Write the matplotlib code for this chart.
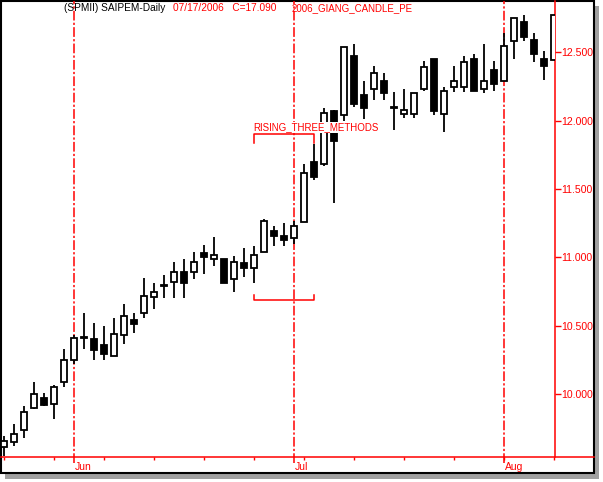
import numpy as np
import matplotlib
matplotlib.use("Agg")
from matplotlib import pyplot as plt
from matplotlib.patches import Rectangle
from matplotlib.lines import Line2D
import matplotlib.transforms as mtrans

# daily candles, SAIPEM, mid May -> mid Aug 2006
opens = [9.61, 9.65, 9.74, 9.90, 9.97, 9.93, 10.09, 10.25, 10.41, 10.40,
         10.36, 10.28, 10.43, 10.54, 10.59, 10.71, 10.79, 10.82, 10.89, 10.89,
         11.03, 10.99, 10.99, 10.84, 10.96, 10.92, 11.04, 11.19, 11.16, 11.14,
         11.26, 11.70, 11.68, 12.07, 12.04, 12.47, 12.19, 12.23, 12.29, 12.095,
         12.05, 12.05, 12.23, 12.45, 12.05, 12.25, 12.25, 12.45, 12.23, 12.37,
         12.29, 12.58, 12.72, 12.59, 12.45, 12.445]
highs = [9.69, 9.78, 9.91, 10.09, 10.01, 10.07, 10.33, 10.43, 10.59, 10.52,
         10.50, 10.56, 10.66, 10.59, 10.85, 10.81, 10.87, 10.97, 10.99, 11.04,
         11.09, 11.15, 10.99, 11.01, 11.07, 11.08, 11.28, 11.23, 11.25, 11.27,
         11.68, 11.83, 12.09, 12.08, 12.54, 12.56, 12.29, 12.40, 12.35, 12.21,
         12.23, 12.20, 12.44, 12.45, 12.25, 12.40, 12.47, 12.49, 12.56, 12.44,
         12.64, 12.75, 12.77, 12.64, 12.51, 12.775]
lows = [9.55, 9.62, 9.68, 9.89, 9.91, 9.82, 10.05, 10.22, 10.33, 10.25,
        10.25, 10.28, 10.37, 10.45, 10.56, 10.62, 10.70, 10.70, 10.70, 10.84,
        10.88, 10.94, 10.81, 10.75, 10.86, 10.81, 11.04, 11.08, 11.08, 11.10,
        11.26, 11.57, 11.67, 11.40, 12.00, 12.10, 12.01, 12.15, 12.15, 11.93,
        12.02, 12.02, 12.22, 12.04, 11.92, 12.21, 12.21, 12.22, 12.20, 12.22,
        12.29, 12.45, 12.58, 12.43, 12.30, 12.445]
closes = [9.66, 9.71, 9.87, 10.00, 9.92, 10.05, 10.25, 10.41, 10.415, 10.32,
          10.29, 10.44, 10.57, 10.51, 10.72, 10.75, 10.80, 10.89, 10.81, 10.97,
          11.00, 11.02, 10.81, 10.97, 10.92, 11.02, 11.27, 11.16, 11.13, 11.23,
          11.62, 11.59, 12.06, 11.85, 12.54, 12.12, 12.09, 12.35, 12.20, 12.10,
          12.08, 12.20, 12.39, 12.07, 12.22, 12.29, 12.43, 12.22, 12.29, 12.27,
          12.55, 12.75, 12.61, 12.49, 12.40, 12.775]

month_names = ["Jun", "Jul", "Aug"]
month_index = [7, 29, 50]          # first trading day of each month
pattern_start, pattern_end = 25, 31
ytick_vals = [10.0, 10.5, 11.0, 11.5, 12.0, 12.5]

W, H = 603, 482
RED = "#ff0000"
FONT = "Liberation Sans"
plt.rcParams["lines.scale_dashes"] = False

fig = plt.figure(figsize=(W / 100, H / 100), dpi=100)
fig.patch.set_facecolor("white")

def fx(px):
    return px / W

def fy(py):
    return 1 - py / H

# frame with drop shadow
fig.patches.append(Rectangle((fx(5), fy(479)), fx(594), 473 / H, transform=fig.transFigure,
                             facecolor="#a0a0a0", edgecolor="none", zorder=0))
fig.patches.append(Rectangle((fx(0.5), fy(473)), fx(593.5), 472.5 / H, transform=fig.transFigure,
                             facecolor="white", edgecolor="black", lw=1.5, zorder=1))

ax = fig.add_axes([fx(1), fy(457), fx(555) - fx(1), fy(1) - fy(457)])
ax.set_facecolor("none")
ax.set_zorder(2)

x = np.arange(len(opens))
o = np.array(opens)
c = np.array(closes)
up = c >= o

ax.vlines(x, lows, highs, color="black", lw=1.3, zorder=2)
ax.bar(x[up], (c - o)[up], bottom=o[up], width=0.6, color="white",
       edgecolor="black", lw=1.3, zorder=3)
ax.bar(x[~up], (c - o)[~up], bottom=o[~up], width=0.6, color="black",
       edgecolor="black", lw=1.3, zorder=3)

ax.set_xlim(-0.3, 55.1)
ax.set_ylim(9.54, 12.876)

# month separators
trans = mtrans.blended_transform_factory(ax.transData, ax.transAxes)
for name, mi in zip(month_names, month_index):
    ax.plot([mi, mi], [-0.014, 1], transform=trans, color=RED, lw=1.1,
            linestyle=(0, (7, 1.6, 1.6, 1.6)), clip_on=False, zorder=1)
    ax.text(mi + 0.1, -0.011, name, transform=trans, ha="left", va="top",
            color=RED, fontsize=7.5, family=FONT)

# rising three methods brackets
top_lvl = max(highs[pattern_start:pattern_end + 1]) + 0.07
bot_lvl = min(lows[pattern_start:pattern_end + 1]) - 0.12
ax.plot([pattern_start, pattern_start, pattern_end, pattern_end],
        [top_lvl - 0.065, top_lvl, top_lvl, top_lvl - 0.065], color=RED, lw=1.1, zorder=4)
ax.plot([pattern_start, pattern_start, pattern_end, pattern_end],
        [bot_lvl + 0.037, bot_lvl, bot_lvl, bot_lvl + 0.037], color=RED, lw=1.1, zorder=4)
ax.text(pattern_start - 0.1, top_lvl + 0.052, "RISING_THREE_METHODS", ha="left", va="center",
        color=RED, fontsize=7, family=FONT, zorder=5,
        bbox=dict(facecolor="white", edgecolor="none", pad=0.3))

# axes styling
for s in ["left", "top", "bottom"]:
    ax.spines[s].set_visible(False)
ax.spines["right"].set_color(RED)
ax.spines["right"].set_linewidth(1.1)
ax.yaxis.tick_right()
ax.set_yticks(ytick_vals)
ax.set_yticklabels(["%.3f" % v for v in ytick_vals])
ax.tick_params(axis="y", colors=RED, length=4, width=1, pad=0.5, labelsize=7.6)
ax.set_xticks(range(0, 56, 5))
ax.set_xticklabels([])
ax.tick_params(axis="x", colors=RED, length=2.5, width=1)
for lab in ax.get_yticklabels():
    lab.set_family(FONT)

# horizontal base line runs out to the frame
fig.lines.append(Line2D([fx(1), fx(594)], [fy(457), fy(457)], transform=fig.transFigure,
                        color=RED, lw=1.1, zorder=3))

# header
fig.text(fx(64), fy(8), "(SPMII) SAIPEM-Daily", color="black", fontsize=7.3, family=FONT,
         va="center", ha="left", zorder=5)
fig.text(fx(173), fy(8), "07/17/2006   C=17.090", color=RED, fontsize=7.3, family=FONT,
         va="center", ha="left", zorder=5)
fig.text(fx(292), fy(8), "2006_GIANG_CANDLE_PE", color=RED, fontsize=7, family=FONT,
         va="center", ha="left", zorder=5)

plt.savefig("out.png", dpi=100)
